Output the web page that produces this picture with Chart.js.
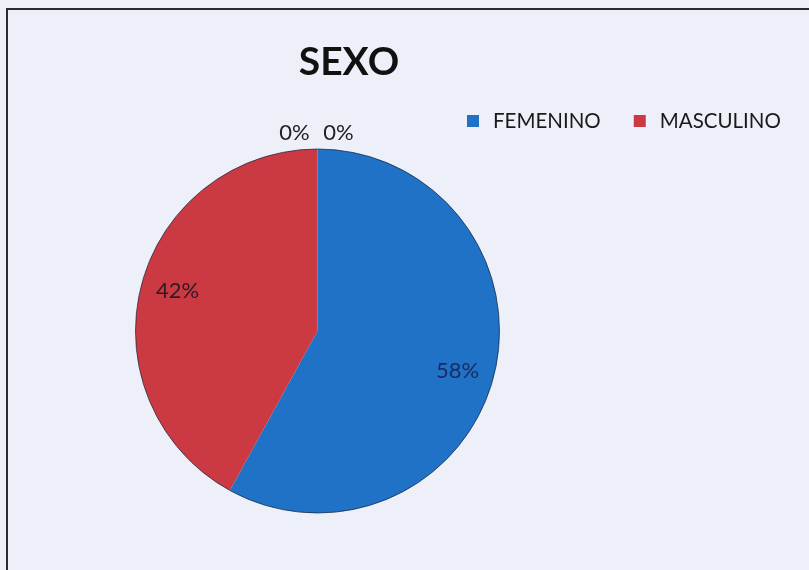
<!DOCTYPE html>
<html>
<head>
<meta charset="utf-8">
<script src="https://cdn.jsdelivr.net/npm/chart.js@4.4.1/dist/chart.umd.min.js"></script>
<style>
	html, body {
		margin: 0;
		padding: 0;
		background: #edf0f8;
		overflow: hidden;
	}

	#frame {
		position: absolute;
		left: 6px;
		top: 8px;
		width: 900px;
		height: 700px;
		border: 2px solid #2b2b30;
	}

	#wrap {
		position: absolute;
		left: 0;
		top: 0;
		width: 809px;
		height: 570px;
	}
</style>
</head>
<body>
<div id="frame"></div>
<div id="wrap"><canvas id="chart" width="809" height="570"></canvas></div>
<script>
const titleText = 'SEXO';
const categories = ['FEMENINO', 'MASCULINO', '', ''];
const values = [58, 42, 0, 0];
const sliceColors = ['#1f72c6', '#cb3a42', '#9bbb59', '#8064a2'];
const labelColors = ['#1d2c60', '#2e1a20', '#222222', '#222222'];

const FONT = 'Lato, "Open Sans", sans-serif';

function percentText(value, total) {
	if (!total) {
		return '0%';
	}

	return String(Math.round(value / total * 100)) + '%';
}

const sexoPlugin = {
	id: 'sexoPlugin',
	afterDatasetsDraw(chart) {
		const ctx = chart.ctx;
		const meta = chart.getDatasetMeta(0);
		const data = chart.data.datasets[0].data;
		const total = data.reduce((sum, value) => sum + value, 0);
		let zeroCount = 0;

		if (!meta.data.length) {
			return;
		}

		const first = meta.data[0];

		// thin outline round the pie
		ctx.save();
		ctx.beginPath();
		ctx.arc(first.x, first.y, first.outerRadius, 0, Math.PI * 2);
		ctx.lineWidth = 1;
		ctx.strokeStyle = 'rgba(20, 30, 60, 0.7)';
		ctx.stroke();
		ctx.restore();

		// percent labels
		ctx.save();
		ctx.font = '22px ' + FONT;
		ctx.textAlign = 'center';
		ctx.textBaseline = 'middle';

		meta.data.forEach((arc, index) => {
			const value = data[index];
			const text = percentText(value, total);
			const mid = (arc.startAngle + arc.endAngle) / 2;

			if (value === 0) {
				const r = arc.outerRadius + 16;
				const x = arc.x + Math.cos(mid) * r + (zeroCount === 0 ? -23 : 21);
				const y = arc.y + Math.sin(mid) * r;
				ctx.fillStyle = '#222222';
				ctx.fillText(text, x, y);
				zeroCount += 1;
				return;
			}

			// Excel's best fit sits a little past the middle of the slice
			const angle = mid + 1.5 * Math.PI / 180;
			const r = arc.outerRadius * 0.8;
			ctx.fillStyle = labelColors[index];
			ctx.fillText(text, arc.x + Math.cos(angle) * r, arc.y + Math.sin(angle) * r);
		});

		ctx.restore();
	},
	afterDraw(chart) {
		const ctx = chart.ctx;
		const labels = chart.data.labels;
		const colors = chart.data.datasets[0].backgroundColor;
		let x = 467;

		ctx.save();

		// title
		ctx.font = 'bold 39px ' + FONT;
		ctx.fillStyle = '#111111';
		ctx.textAlign = 'center';
		ctx.textBaseline = 'alphabetic';
		ctx.fillText(titleText, 349, 75);

		// legend, only named categories
		ctx.font = '20.5px ' + FONT;
		ctx.textAlign = 'left';

		labels.forEach((label, index) => {
			if (!label) {
				return;
			}

			ctx.fillStyle = colors[index];
			ctx.fillRect(x, 115, 12, 12);
			ctx.fillStyle = '#1a1a1a';
			ctx.fillText(label, x + 26, 128);
			x += 26 + ctx.measureText(label).width + 33;
		});

		ctx.restore();
	}
};

const canvas = document.getElementById('chart');

new Chart(canvas.getContext('2d'), {
	type: 'pie',
	data: {
		labels: categories,
		datasets: [{
			data: values,
			backgroundColor: sliceColors,
			borderWidth: 0
		}]
	},
	options: {
		responsive: false,
		animation: false,
		layout: {
			padding: {
				left: 135,
				right: 309,
				top: 149,
				bottom: 57
			}
		},
		plugins: {
			legend: { display: false },
			title: { display: false },
			tooltip: { enabled: false }
		}
	},
	plugins: [sexoPlugin]
});
</script>
</body>
</html>
